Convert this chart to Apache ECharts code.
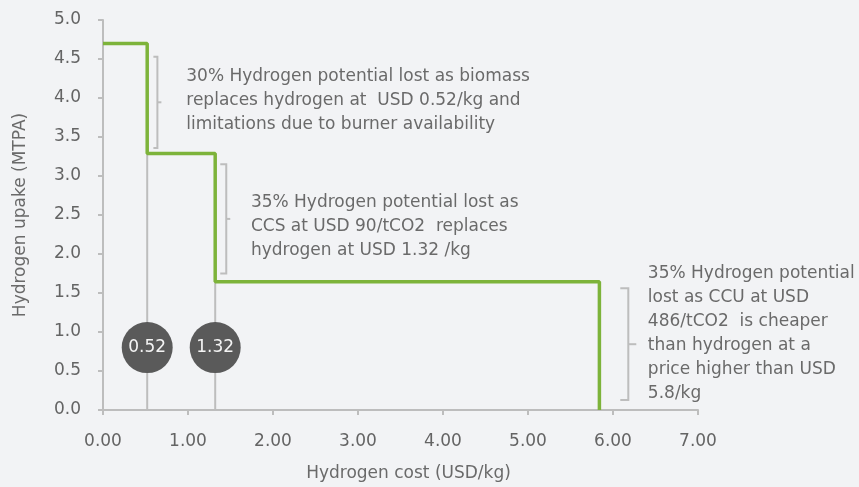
<!DOCTYPE html>
<html>
<head>
<meta charset="utf-8">
<script src="https://cdn.jsdelivr.net/npm/echarts@6/dist/echarts.min.js"></script>
<style>
  html, body { margin: 0; padding: 0; background: #f2f3f5; }
  #chart { width: 859px; height: 487px; }
</style>
</head>
<body>
<div id="chart"></div>
<script>
// Hydrogen uptake holds at each level until cost reaches the next step
const stepCosts = [0.52, 1.32, 5.84];      // USD/kg where each tranche is lost
const uptakeLevels = [4.7, 3.29, 1.645];   // MTPA held up to each step
const markerLabels = ['0.52', '1.32'];     // price markers on the first two steps
const markerUptake = 0.8;                  // height of the price markers
const xTickValues = [0, 1, 2, 3, 4, 5, 6, 7];
const yTickValues = [0, 0.5, 1, 1.5, 2, 2.5, 3, 3.5, 4, 4.5, 5];

const noteTexts = [
  ['30% Hydrogen potential lost as biomass',
   'replaces hydrogen at  USD 0.52/kg and',
   'limitations due to burner availability'],
  ['35% Hydrogen potential lost as',
   'CCS at USD 90/tCO2  replaces',
   'hydrogen at USD 1.32 /kg'],
  ['35% Hydrogen potential',
   'lost as CCU at USD',
   '486/tCO2  is cheaper',
   'than hydrogen at a',
   'price higher than USD',
   '5.8/kg']
];

// Placement of each note and its bracket (axis units, pixel arm lengths)
const noteLayout = [
  { tx: 0.98, ty: 4.28, bx: 0.64, top: 4.53, bottom: 3.36, arm: 4, tick: 4 },
  { tx: 1.74, ty: 2.66, bx: 1.45, top: 3.15, bottom: 1.75, arm: 6, tick: 4 },
  { tx: 6.41, ty: 1.747, bx: 6.18, top: 1.56, bottom: 0.127, arm: 8, tick: 8 }
];

const FONT = '"DejaVu Sans", sans-serif';
const TEXT = '#6a6a6a';
const AXIS = '#bdbdbd';

// Build the step outline from the levels and step costs
const stepLine = [[0, uptakeLevels[0]]];
stepCosts.forEach((c, i) => {
  stepLine.push([c, uptakeLevels[i]]);
  stepLine.push([c, i + 1 < uptakeLevels.length ? uptakeLevels[i + 1] : 0]);
});

// Grey guides dropping from the first two steps to the axis
const guides = markerLabels.map((_, i) => ({
  type: 'line',
  data: [[stepCosts[i], 0], [stepCosts[i], uptakeLevels[i + 1]]],
  symbol: 'none',
  lineStyle: { color: AXIS, width: 2 },
  silent: true,
  z: 1
}));

const chart = echarts.init(document.getElementById('chart'));
chart.setOption({
  backgroundColor: '#f2f3f5',
  animation: false,
  grid: { left: 103, right: 161, top: 20, bottom: 74 },
  xAxis: {
    type: 'value', min: 0, max: 7, interval: 1,
    name: 'Hydrogen cost (USD/kg)',
    nameLocation: 'middle', nameGap: 55,
    nameTextStyle: { color: TEXT, fontSize: 17, fontFamily: FONT, padding: [0, 0, 0, 16] },
    axisLine: { lineStyle: { color: AXIS, width: 2 } },
    axisTick: { show: true, length: 5, lineStyle: { color: AXIS, width: 2 } },
    axisLabel: {
      color: '#646464', fontSize: 17, fontFamily: FONT, margin: 23,
      formatter: v => xTickValues.includes(v) ? v.toFixed(2) : ''
    },
    splitLine: { show: false }
  },
  yAxis: {
    type: 'value', min: 0, max: 5, interval: 0.5,
    name: 'Hydrogen upake (MTPA)',
    nameLocation: 'middle', nameGap: 74,
    nameTextStyle: { color: TEXT, fontSize: 17, fontFamily: FONT },
    axisLine: { show: true, lineStyle: { color: AXIS, width: 2 } },
    axisTick: { show: true, length: 5, lineStyle: { color: AXIS, width: 2 } },
    axisLabel: {
      color: '#646464', fontSize: 17, fontFamily: FONT, margin: 22,
      formatter: v => yTickValues.includes(v) ? v.toFixed(1) : ''
    },
    splitLine: { show: false }
  },
  series: [
    ...guides,
    {
      type: 'line',
      data: stepLine,
      symbol: 'none',
      lineStyle: { color: '#7db33a', width: 3.5 },
      z: 3
    },
    {
      type: 'scatter',
      data: markerLabels.map((t, i) => [stepCosts[i], markerUptake]),
      symbolSize: 51,
      itemStyle: { color: '#5a5a5a', opacity: 1 },
      label: {
        show: true, position: 'inside',
        formatter: p => markerLabels[p.dataIndex],
        color: '#f4f4f4', fontSize: 17, fontFamily: FONT
      },
      z: 4
    },
    {
      type: 'custom',
      clip: false,
      silent: true,
      data: noteLayout.map(n => [n.tx, n.ty]),
      renderItem: (params, api) => {
        const n = noteLayout[params.dataIndex];
        const top = api.coord([n.bx, n.top]);
        const bot = api.coord([n.bx, n.bottom]);
        const bx = top[0];
        const mid = (top[1] + bot[1]) / 2;
        const anchor = api.coord([n.tx, n.ty]);
        const lh = 24;
        return {
          type: 'group',
          children: [
            {
              type: 'polyline',
              shape: { points: [[bx - n.arm, top[1]], [bx, top[1]], [bx, bot[1]], [bx - n.arm, bot[1]]] },
              style: { stroke: AXIS, lineWidth: 2, fill: null }
            },
            {
              type: 'line',
              shape: { x1: bx, y1: mid, x2: bx + n.tick, y2: mid },
              style: { stroke: AXIS, lineWidth: 2 }
            },
            {
              type: 'text',
              x: anchor[0], y: anchor[1] - lh / 2,
              style: {
                text: noteTexts[params.dataIndex].join('\n'),
                fill: TEXT, fontSize: 17, fontFamily: FONT,
                lineHeight: lh, align: 'left', verticalAlign: 'top'
              }
            }
          ]
        };
      },
      z: 5
    }
  ]
});
</script>
</body>
</html>
